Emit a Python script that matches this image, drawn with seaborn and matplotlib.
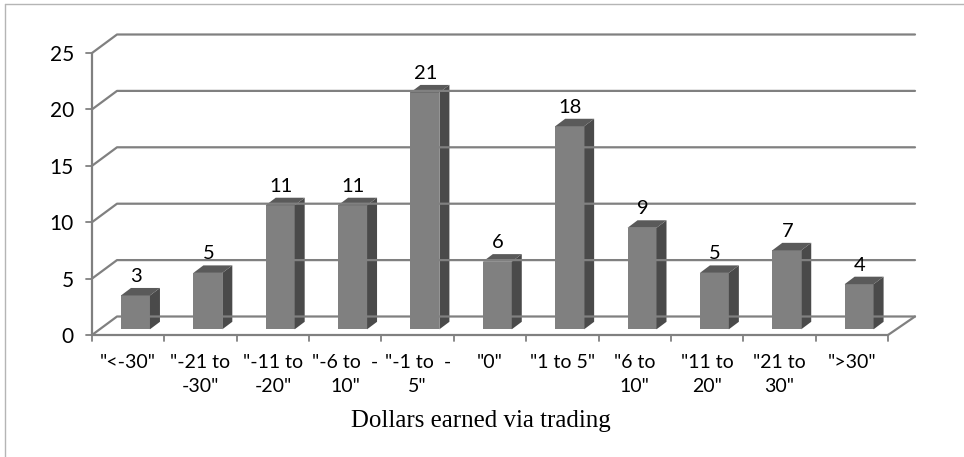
import matplotlib
matplotlib.use("Agg")
import matplotlib.pyplot as plt
import pandas as pd
import seaborn as sns
from matplotlib.lines import Line2D
from matplotlib.patches import Polygon
from matplotlib.transforms import Affine2D, IdentityTransform

# data
categories = ['"<-30"', '"-21 to\n-30"', '"-11 to\n-20"', '"-6 to  -\n10"', '"-1 to  -\n5"', '"0"',
              '"1 to 5"', '"6 to\n10"', '"11 to\n20"', '"21 to\n30"', '">30"']
counts = [3, 5, 11, 11, 21, 6, 18, 9, 5, 7, 4]
y_ticks = [0, 5, 10, 15, 20, 25]
x_label = "Dollars earned via trading"

GRID = "#808080"
FRONT = "#808080"
SIDE = "#4a4a4a"
TOP = "#5a5a5a"
W, H = 964, 457

sns.set_style("white")
plt.rcParams["font.family"] = ["Lato", "DejaVu Sans"]

fig = plt.figure(figsize=(W / 100, H / 100), dpi=100)
# front plane of the fake 3d box
ax = fig.add_axes([92 / W, (H - 335) / H, (888 - 92) / W, (335 - 53) / H])

df = pd.DataFrame({"bin": range(len(categories)), "count": counts})
sns.barplot(data=df, x="bin", y="count", color=FRONT, saturation=1, width=0.4,
            linewidth=0, zorder=3, ax=ax)
ax.set_xlim(-0.5, len(categories) - 0.5)
ax.set_ylim(0, 25)
sns.despine(ax=ax, left=True, bottom=True, top=True, right=True)

# wall depth and bar shift, pixels
wall_dx, wall_dy = 25, 18.5
bar_dx, bar_dy = 7.3, 5.7
side_dx, side_dy = 10, 7.5
px = IdentityTransform()


def line(xs, ys, color=GRID, lw=1.6, zorder=1):
    fig.add_artist(Line2D(xs, ys, color=color, lw=lw, transform=px, zorder=zorder))


# gridlines on the wall, tick marks on the front
for t in y_ticks:
    x0, y0 = ax.transData.transform((-0.5, t))
    line([x0, x0 + wall_dx, 915], [y0, y0 + wall_dy, y0 + wall_dy])
    line([x0 - 6, x0], [y0, y0], lw=1.3)

x0, y0 = ax.transData.transform((-0.5, 0))
x1, y1 = ax.transData.transform((len(categories) - 0.5, 0))
x_top = ax.transData.transform((-0.5, 25))[1]
line([x0, x0], [y0, x_top])
line([x0, x1], [y0, y0])
line([x1, 915], [y0, y0 + wall_dy])
for i in range(len(categories) + 1):
    xt = ax.transData.transform((i - 0.5, 0))[0]
    line([xt, xt], [y0, y0 - 6], lw=1.3)

# bars: shift the front faces, then add side and top faces
shift = ax.transData + Affine2D().translate(bar_dx, bar_dy)
for bar, value in zip(ax.patches, counts):
    bar.set_transform(shift)
    bar.set_clip_on(False)
    (l, b) = shift.transform((bar.get_x(), 0))
    (r, t) = shift.transform((bar.get_x() + bar.get_width(), value))
    ax.add_patch(Polygon([(r, b), (r + side_dx, b + side_dy), (r + side_dx, t + side_dy), (r, t)],
                         closed=True, fc=SIDE, ec="none", transform=px, zorder=3, clip_on=False))
    ax.add_patch(Polygon([(l, t), (l + side_dx, t + side_dy), (r + side_dx, t + side_dy), (r, t)],
                         closed=True, fc=TOP, ec="none", transform=px, zorder=3, clip_on=False))
    fig.text(((l + r) / 2 + 0.5) / W, (t + 19) / H, str(value), ha="center", va="center",
             fontsize=14.5, color="black")

ax.set_xticks(range(len(categories)))
ax.set_xticklabels(categories, fontsize=14, linespacing=1.45, color="black")
ax.set_yticks(y_ticks)
ax.set_yticklabels([str(t) for t in y_ticks], fontsize=15, color="black")
ax.tick_params(axis="x", length=0, pad=14)
ax.tick_params(axis="y", length=0, pad=13)
ax.set_xlabel("")
ax.set_ylabel("")

fig.text(481 / W, (H - 421) / H, x_label, ha="center", va="center",
         fontsize=17.9, family="Liberation Serif", color="black")

# outer frame of the pasted chart
line([5, 5], [0, H - 4], color="#b5b5b5", lw=1)
line([5, W], [H - 4, H - 4], color="#b5b5b5", lw=1)

fig.savefig("out.png", dpi=100)
plt.close()
